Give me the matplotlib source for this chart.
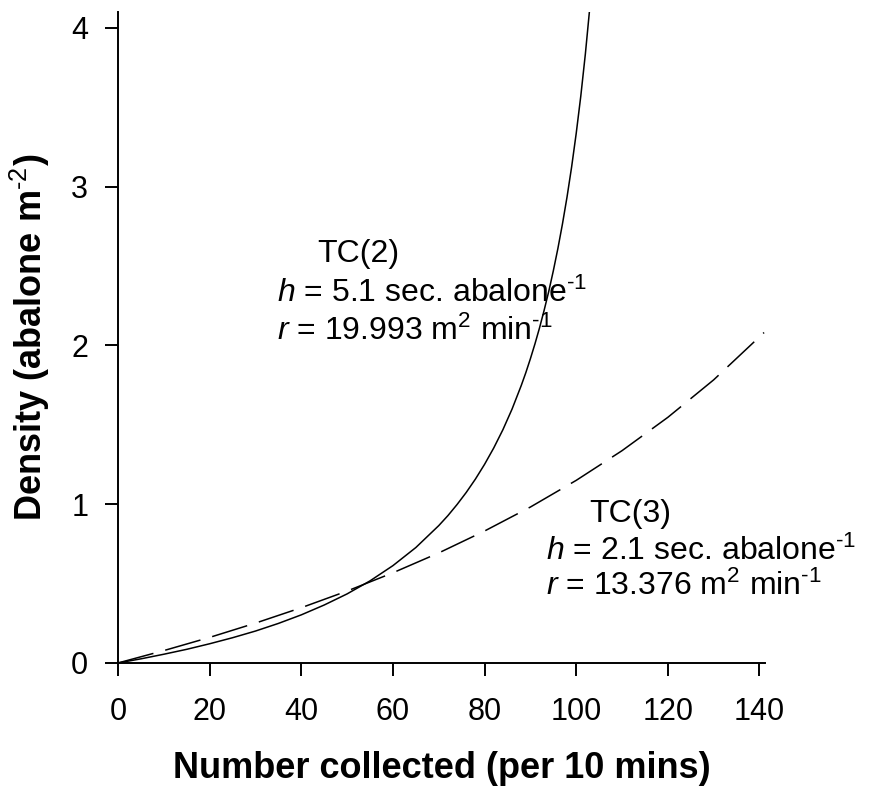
import numpy as np
import matplotlib
matplotlib.use("Agg")
import matplotlib.pyplot as plt

plt.rcParams['font.family'] = ['Liberation Sans', 'DejaVu Sans']
plt.rcParams['mathtext.fontset'] = 'custom'
plt.rcParams['mathtext.rm'] = 'Liberation Sans'
plt.rcParams['mathtext.it'] = 'Liberation Sans:italic'
plt.rcParams['mathtext.bf'] = 'Liberation Sans:bold'

# TC(2): solid curve
tc2_n = [0, 5, 10, 15, 20, 25, 30, 35, 40, 45, 50, 55, 60, 65, 70, 72, 74,
         76, 78, 80, 82, 84, 86, 88, 89, 90, 91, 92, 93, 94, 95, 96, 97, 98,
         99, 100, 101, 102, 103]
tc2_d = [0, 0.026, 0.055, 0.086, 0.121, 0.159, 0.201, 0.249, 0.303, 0.365,
         0.435, 0.517, 0.613, 0.727, 0.865, 0.928, 0.998, 1.074, 1.158,
         1.251, 1.354, 1.469, 1.599, 1.747, 1.828, 1.916, 2.010, 2.111,
         2.221, 2.339, 2.469, 2.610, 2.765, 2.935, 3.124, 3.335, 3.570,
         3.836, 4.138]

# TC(3): dashed curve
tc3_n = [0, 10, 20, 30, 40, 50, 60, 70, 80, 90, 100, 110, 120, 130, 141]
tc3_d = [0, 0.078, 0.161, 0.251, 0.348, 0.453, 0.568, 0.693, 0.831, 0.982,
         1.150, 1.337, 1.547, 1.783, 2.081]

fig = plt.figure(figsize=(8.69, 7.87), dpi=100)
ax = fig.add_axes([0.1358, 0.1576, 0.7445, 0.8272])

ax.plot(tc2_n, tc2_d, color='black', lw=1.1)
ax.plot(tc3_n, tc3_d, color='black', lw=1.1, ls=(0, (24, 8)))

ax.set_xlim(0, 141.2)
ax.set_ylim(0, 4.1)
ax.set_xticks([0, 20, 40, 60, 80, 100, 120, 140])
ax.set_yticks([0, 1, 2, 3, 4])
for s in ['top', 'right']:
    ax.spines[s].set_visible(False)
for s in ['left', 'bottom']:
    ax.spines[s].set_linewidth(1.4)
ax.tick_params(axis='both', direction='out', length=9.5, width=1.4, labelsize=22)
ax.tick_params(axis='x', pad=15)
ax.tick_params(axis='y', pad=12)

lab_font = {'family': 'Liberation Sans', 'size': 26, 'weight': 'bold'}
ax.set_xlabel('Number collected (per 10 mins)', fontdict=lab_font, labelpad=17)
ax.set_ylabel(r'Density (abalone m$\mathbf{^{\text{-2}}}$)', fontdict=lab_font, labelpad=14)

fs = 23
ax.text(43.4, 2.526, 'TC(2)', fontsize=fs, va='baseline')
ax.text(34.6, 2.274, r'$\it{h}$ = 5.1 sec. abalone$^{\text{-1}}$', fontsize=fs, va='baseline')
ax.text(34.6, 2.035, r'$\it{r}$ = 19.993 m$^{\text{2}}$ min$^{\text{-1}}$', fontsize=fs, va='baseline')
ax.text(102.9, 0.888, 'TC(3)', fontsize=fs, va='baseline')
ax.text(93.3, 0.649, r'$\it{h}$ = 2.1 sec. abalone$^{\text{-1}}$', fontsize=fs, va='baseline')
ax.text(93.3, 0.425, r'$\it{r}$ = 13.376 m$^{\text{2}}$ min$^{\text{-1}}$', fontsize=fs, va='baseline')

fig.savefig('out.png', dpi=100)
